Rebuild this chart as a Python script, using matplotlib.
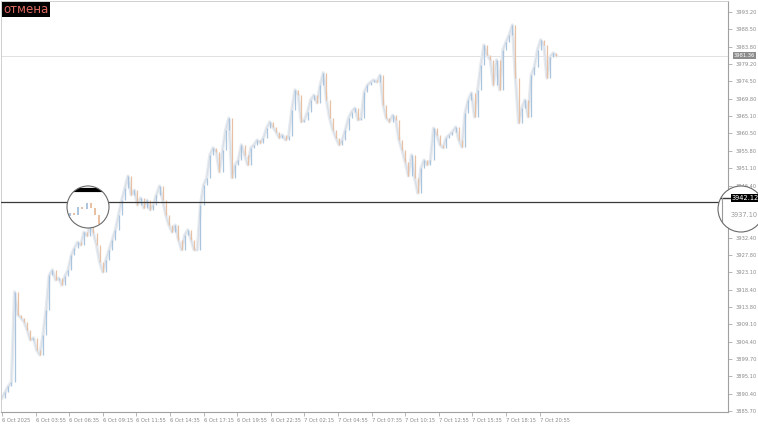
import matplotlib
matplotlib.use("Agg")
import matplotlib.pyplot as plt
from matplotlib.patches import Circle
import matplotlib.transforms as mtransforms

# 5-minute bars, XAUUSD-like, one value every 3 bars (closing prices)
closes = [
    3889.2, 3890.8, 3892.4, 3893.5, 3917.8, 3911.6, 3910.8, 3909.7, 3907.5, 3904.8,
    3905.4, 3902.1, 3900.8, 3906.2, 3912.9, 3922.3, 3923.7, 3921.0, 3921.5, 3919.6,
    3922.1, 3923.7, 3927.7, 3929.6, 3931.2, 3930.4, 3933.9, 3932.9, 3936.1, 3933.7,
    3930.4, 3925.8, 3923.1, 3926.4, 3929.1, 3931.8, 3934.5, 3938.5, 3942.5, 3945.8,
    3949.0, 3943.9, 3945.2, 3941.2, 3943.1, 3940.4, 3942.5, 3939.9, 3941.2, 3943.9,
    3946.3, 3942.5, 3938.5, 3935.8, 3933.9, 3935.8, 3931.8, 3929.1, 3933.1, 3934.5,
    3931.8, 3929.1, 3929.1, 3941.2, 3946.6, 3948.5, 3954.7, 3956.6, 3955.5, 3950.1,
    3956.0, 3961.4, 3964.6, 3948.5, 3952.0, 3953.3, 3957.4, 3954.7, 3952.0, 3956.6,
    3957.4, 3958.7, 3957.9, 3959.3, 3961.9, 3963.6, 3962.2, 3960.9, 3959.3, 3960.1,
    3958.7, 3959.8, 3966.8, 3972.2, 3970.8, 3963.6, 3964.1, 3966.3, 3969.5, 3970.8,
    3968.7, 3973.5, 3976.8, 3969.5, 3964.6, 3961.4, 3959.3, 3957.4, 3958.7, 3961.4,
    3964.6, 3966.3, 3967.3, 3964.1, 3964.6, 3971.6, 3973.5, 3974.3, 3974.9, 3974.3,
    3976.2, 3968.1, 3964.6, 3963.6, 3965.4, 3964.1, 3958.7, 3956.0, 3952.8, 3949.0,
    3954.7, 3948.5, 3944.4, 3951.2, 3953.3, 3952.0, 3953.3, 3961.9, 3960.1, 3957.4,
    3956.6, 3959.3, 3960.1, 3960.9, 3962.2, 3958.7, 3956.8, 3966.0, 3969.5, 3971.4,
    3964.9, 3972.2, 3978.9, 3984.3, 3981.6, 3980.3, 3973.5, 3980.3, 3972.2, 3983.0,
    3985.1, 3987.0, 3989.7, 3975.4, 3963.3, 3967.3, 3969.5, 3964.9, 3976.2, 3978.4,
    3983.0, 3985.7, 3984.3, 3975.4, 3981.1, 3982.2, 3981.36,
]
bar_step = 3  # five-minute bars per value

time_labels = ['6 Oct 2025', '6 Oct 03:55', '6 Oct 06:35', '6 Oct 09:15', '6 Oct 11:55',
               '6 Oct 14:35', '6 Oct 17:15', '6 Oct 19:55', '6 Oct 22:35', '7 Oct 02:15',
               '7 Oct 04:55', '7 Oct 07:35', '7 Oct 10:15', '7 Oct 12:55', '7 Oct 15:35',
               '7 Oct 18:15', '7 Oct 20:55']
label_every = 32  # bars between time labels

price_ticks = [3885.70, 3890.40, 3895.10, 3899.70, 3904.40, 3909.10, 3913.80, 3918.40,
               3923.10, 3927.80, 3932.40, 3937.10, 3941.80, 3946.40, 3951.10, 3955.80,
               3960.50, 3965.10, 3969.80, 3974.50, 3979.20, 3983.80, 3988.50, 3993.20]

level_price = 3942.12
last_price = 3981.36

UP = '#abc4de'
DOWN = '#e8c0a3'
HALO = '#e7ebf0'

xs = [i * bar_step for i in range(len(closes))]
opens = [closes[0]] + closes[:-1]
cols = [UP if c >= o else DOWN for o, c in zip(opens, closes)]

W, H = 758, 425
fig = plt.figure(figsize=(W / 100, H / 100), dpi=100)
fig.patch.set_facecolor('white')

# main chart area (pixel box 1..728 x 1..412)
ax = fig.add_axes([1 / W, (H - 412) / H, 727 / W, 411 / H])
ax.plot(xs, closes, color=HALO, lw=2.4, zorder=1, solid_joinstyle='round')
ax.plot(xs, closes, color='#d2dae4', lw=0.5, zorder=1)
ax.vlines(xs, opens, closes, colors=cols, linewidth=0.9, zorder=2)

ax.axhline(last_price, color='#dcdcdc', lw=0.6, zorder=0)
ax.axhline(level_price, color='#3a3a3a', lw=0.9, zorder=3)

ax.set_xlim(-0.95, 691.4)
ax.set_ylim(3885.43, 3996.15)

ax.set_xticks([i * label_every for i in range(len(time_labels))])
ax.set_xticklabels(time_labels)
for t in ax.get_xticklabels():
    t.set_ha('left')
ax.tick_params(axis='x', length=3, width=0.5, colors='#9a9a9a', labelsize=3.7,
               pad=1.5, labelcolor='#8a8a8a')

ax.yaxis.tick_right()
ax.set_yticks(price_ticks)
ax.set_yticklabels(['%.2f' % p for p in price_ticks])
ax.tick_params(axis='y', length=3, width=0.5, colors='#9a9a9a', labelsize=3.7,
               pad=2.5, labelcolor='#8a8a8a')

for side in ['left', 'top']:
    ax.spines[side].set_color('#c8c8c8')
    ax.spines[side].set_linewidth(0.6)
for side in ['right', 'bottom']:
    ax.spines[side].set_color('#a0a0a0')
    ax.spines[side].set_linewidth(0.8)

# last price tag on the price scale
trans = mtransforms.blended_transform_factory(ax.transAxes, ax.transData)
ax.text(1.008, last_price, '%.2f' % last_price, transform=trans, fontsize=3.7,
        color='white', va='center', ha='left', clip_on=False, zorder=6,
        bbox=dict(boxstyle='square,pad=0.2', fc='#8c8c8c', ec='none'))

# magnifier over the chart (left circle)
cx, cy, r = 88, 207, 21
ax2 = fig.add_axes([(cx - r) / W, (H - cy - r) / H, 2 * r / W, 2 * r / H])
ax2.set_axis_off()
disc = Circle((0.5, 0.5), 0.5, transform=ax2.transAxes, fc='white', ec='none', zorder=0)
ax2.add_patch(disc)
ax2.vlines(xs, opens, closes, colors=cols, linewidth=1.4, zorder=2, clip_path=disc)
hl = ax2.axhline(level_price, color='black', lw=3.0, zorder=3)
hl.set_clip_path(disc)
ax2.set_xlim(70, 100)
ax2.set_ylim(3924, 3944)
ax2.add_patch(Circle((0.5, 0.5), 0.5, transform=ax2.transAxes, fc='none',
                     ec='#6a6a6a', lw=0.8, zorder=5, clip_on=False))

# magnifier over the price scale (right circle)
rx, ry, rr = 741, 209, 23
ax3 = fig.add_axes([(rx - rr) / W, (H - ry - rr) / H, 2 * rr / W, 2 * rr / H])
ax3.set_axis_off()
ax3.set_xlim(0, 1)
ax3.set_ylim(0, 1)
disc3 = Circle((0.5, 0.5), 0.5, transform=ax3.transAxes, fc='white', ec='none', zorder=0)
ax3.add_patch(disc3)
ln = ax3.plot([0, 0.3], [0.74, 0.74], color='#3a3a3a', lw=1.0, zorder=2)[0]
ln.set_clip_path(disc3)
vl = ax3.plot([0.08, 0.08], [0.74, 0.0], color='#9a9a9a', lw=0.8, zorder=2)[0]
vl.set_clip_path(disc3)
ax3.text(0.29, 0.74, '%.2f' % level_price, fontsize=4.8, color='white', va='center',
         ha='left', zorder=3,
         bbox=dict(boxstyle='square,pad=0.1', fc='black', ec='none'))
ax3.text(0.28, 0.37, '%.2f' % price_ticks[11], fontsize=4.8, color='#9a9a9a',
         va='center', ha='left', zorder=3)
ax3.add_patch(Circle((0.5, 0.5), 0.5, transform=ax3.transAxes, fc='none',
                     ec='#6a6a6a', lw=0.8, zorder=5, clip_on=False))

# cancel label in the corner
fig.text(3 / W, 1 - 9.5 / H, 'отмена', fontsize=8.5, color='#e06a60', va='center',
         ha='left', bbox=dict(boxstyle='square,pad=0.12', fc='black', ec='none'))

fig.savefig('out.png', dpi=100)
